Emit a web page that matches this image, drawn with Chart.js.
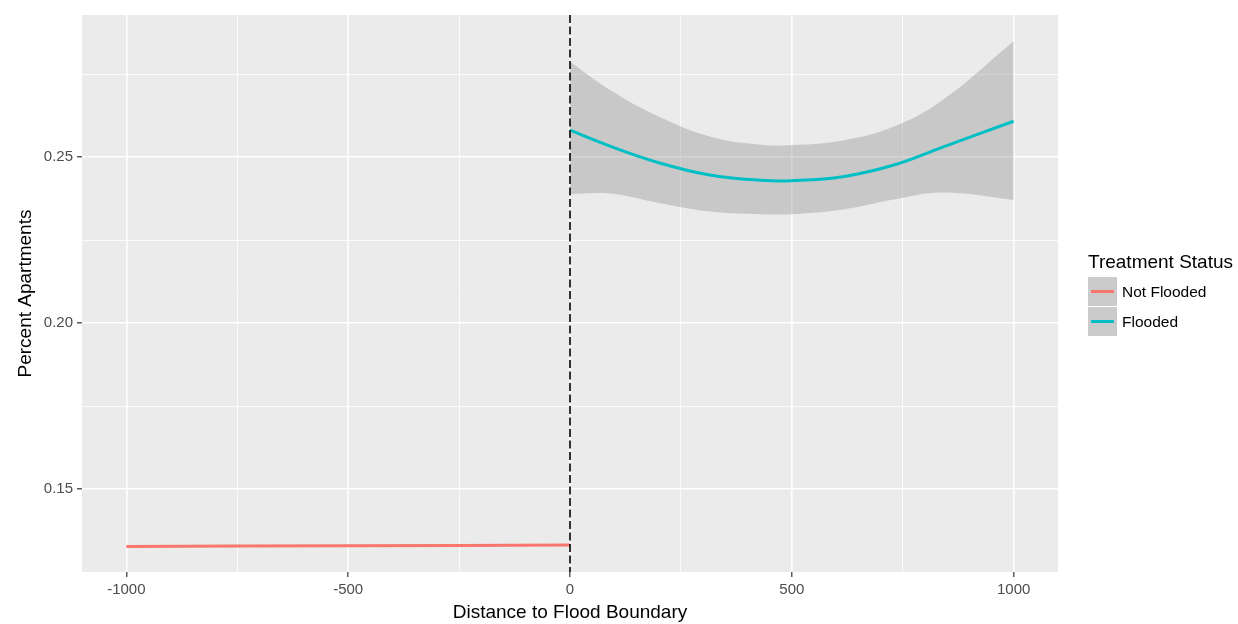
<!DOCTYPE html>
<html>
<head>
<meta charset="utf-8">
<script src="https://cdn.jsdelivr.net/npm/chart.js@4.4.1/dist/chart.umd.min.js"></script>
<style>
    html, body { margin: 0; padding: 0; background: #fff; }
    #wrap { position: relative; width: 1238px; height: 624px; }
    #legend { position: absolute; left: 1088px; top: 251px; font-family: "Liberation Sans", Arial, sans-serif; }
    #legend .title { font-size: 19px; color: #000; height: 26px; }
    #legend .row { display: flex; align-items: center; height: 30px; }
    #legend .key { width: 29px; height: 29px; background: #cbcbcb; position: relative; margin-right: 5px; border-bottom: 1px solid #fff; }
    #legend .key span { position: absolute; left: 3px; right: 3px; top: 13px; height: 3px; }
    #legend .lab { font-size: 15.5px; color: #000; }
</style>
</head>
<body>
<div id="wrap">
    <canvas id="chart" width="1238" height="624"></canvas>
    <div id="legend"></div>
</div>
<script>
// data
const seriesNames = ['Not Flooded', 'Flooded'];
const seriesColors = ['#F8766D', '#00BFC4'];

const notFloodedX = [-1000, -750, -500, -250, 0];
const notFloodedY = [0.1327, 0.1328, 0.1329, 0.1330, 0.1331];

const floodedX = [0, 90, 200, 315, 430, 500, 615, 730, 840, 1000];
const floodedY = [0.2581, 0.2533, 0.2483, 0.2446, 0.2430, 0.2429, 0.2441, 0.2476, 0.2530, 0.2608];
const floodedUpper = [0.2787, 0.2702, 0.2622, 0.2562, 0.2537, 0.2536, 0.2550, 0.2592, 0.2672, 0.2849];
const floodedLower = [0.2389, 0.2390, 0.2362, 0.2336, 0.2328, 0.2328, 0.2342, 0.2372, 0.2393, 0.2371];

const xTicks = [-1000, -750, -500, -250, 0, 250, 500, 750, 1000];
const yTicks = [0.15, 0.175, 0.20, 0.225, 0.25, 0.275];
const xMajor = [-1000, -500, 0, 500, 1000];
const yMajor = [0.15, 0.20, 0.25];
const boundaryX = 0;

function pts(xs, ys) {
    return xs.map((x, i) => ({ x: x, y: ys[i] }));
}

const isMajorX = v => xMajor.some(m => Math.abs(m - v) < 1e-6);
const isMajorY = v => yMajor.some(m => Math.abs(m - v) < 1e-6);

const panelBg = {
    id: 'panelBg',
    beforeDraw(chart) {
        const a = chart.chartArea, ctx = chart.ctx;
        ctx.save();
        ctx.fillStyle = '#EBEBEB';
        ctx.fillRect(a.left, a.top, a.right - a.left, a.bottom - a.top);
        ctx.restore();
    }
};

const boundaryLine = {
    id: 'boundaryLine',
    afterDatasetsDraw(chart) {
        const a = chart.chartArea, ctx = chart.ctx;
        const px = chart.scales.x.getPixelForValue(boundaryX);
        ctx.save();
        ctx.strokeStyle = '#000';
        ctx.lineWidth = 1.6;
        ctx.setLineDash([8, 3.5]);
        ctx.beginPath();
        ctx.moveTo(px, a.top);
        ctx.lineTo(px, a.bottom);
        ctx.stroke();
        ctx.restore();
    }
};

const font = '"Liberation Sans", Arial, sans-serif';

new Chart(document.getElementById('chart'), {
    type: 'line',
    data: {
        datasets: [
            {
                label: 'lower',
                data: pts(floodedX, floodedLower),
                borderWidth: 0,
                pointRadius: 0,
                fill: false,
                tension: 0.4,
                order: 3
            },
            {
                label: 'upper',
                data: pts(floodedX, floodedUpper),
                borderWidth: 0,
                pointRadius: 0,
                backgroundColor: 'rgba(153,153,153,0.42)',
                fill: '-1',
                tension: 0.4,
                order: 2
            },
            {
                label: seriesNames[0],
                data: pts(notFloodedX, notFloodedY),
                borderColor: seriesColors[0],
                borderWidth: 3,
                pointRadius: 0,
                fill: false,
                order: 0
            },
            {
                label: seriesNames[1],
                data: pts(floodedX, floodedY),
                borderColor: seriesColors[1],
                borderWidth: 3,
                pointRadius: 0,
                fill: false,
                tension: 0.4,
                order: 0
            }
        ]
    },
    options: {
        responsive: false,
        animation: false,
        layout: {
            padding: { left: 0, top: 15, right: 180, bottom: 0 }
        },
        plugins: {
            legend: { display: false },
            tooltip: { enabled: false }
        },
        scales: {
            x: {
                type: 'linear',
                min: -1100,
                max: 1100,
                afterBuildTicks: s => { s.ticks = xTicks.map(v => ({ value: v })); },
                afterFit: s => { s.height = 52; },
                border: { display: false },
                grid: {
                    color: '#FFFFFF',
                    lineWidth: c => isMajorX(c.tick.value) ? 1.6 : 0.8,
                    tickColor: c => isMajorX(c.tick.value) ? '#333333' : 'rgba(0,0,0,0)',
                    tickLength: 5,
                    tickWidth: 1.2
                },
                ticks: {
                    color: '#4D4D4D',
                    font: { family: font, size: 15 },
                    padding: 4,
                    maxRotation: 0,
                    callback: v => isMajorX(v) ? String(v) : ''
                },
                title: {
                    display: true,
                    text: 'Distance to Flood Boundary',
                    color: '#000',
                    font: { family: font, size: 19 },
                    padding: { top: 0, bottom: 0 }
                }
            },
            y: {
                type: 'linear',
                min: 0.125,
                max: 0.2928,
                afterBuildTicks: s => { s.ticks = yTicks.map(v => ({ value: v })); },
                afterFit: s => { s.width = 82; },
                border: { display: false },
                grid: {
                    color: '#FFFFFF',
                    lineWidth: c => isMajorY(c.tick.value) ? 1.6 : 0.8,
                    tickColor: c => isMajorY(c.tick.value) ? '#333333' : 'rgba(0,0,0,0)',
                    tickLength: 5,
                    tickWidth: 1.2
                },
                ticks: {
                    color: '#4D4D4D',
                    font: { family: font, size: 15 },
                    padding: 4,
                    callback: v => isMajorY(v) ? v.toFixed(2) : ''
                },
                title: {
                    display: true,
                    text: 'Percent Apartments',
                    color: '#000',
                    font: { family: font, size: 19 },
                    padding: { top: 14, bottom: 0 }
                }
            }
        }
    },
    plugins: [panelBg, boundaryLine]
});

// legend
let legend = document.getElementById('legend');
let html = '<div class="title">Treatment Status</div>';
seriesNames.forEach((name, i) => {
    html += '<div class="row"><div class="key"><span style="background:' + seriesColors[i] + '"></span></div>' +
        '<div class="lab">' + name + '</div></div>';
});
legend.innerHTML = html;
</script>
</body>
</html>
